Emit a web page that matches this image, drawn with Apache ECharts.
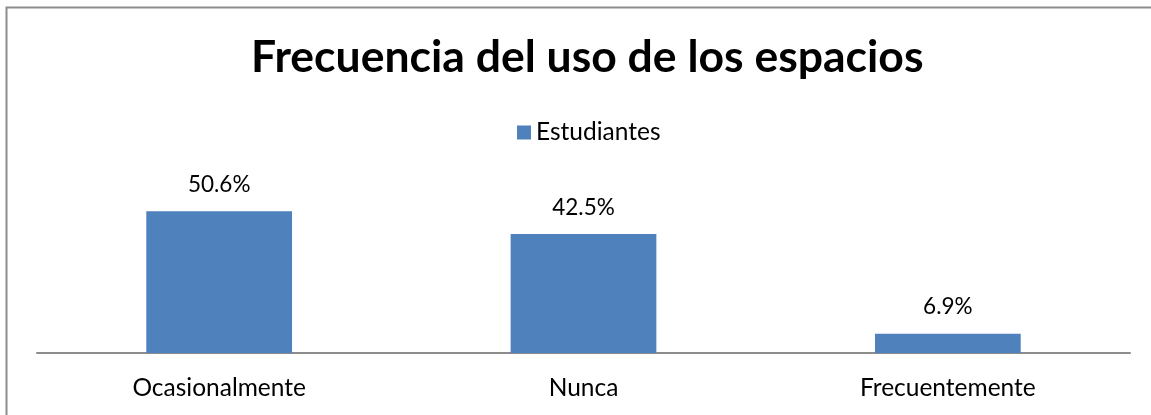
<!DOCTYPE html>
<html><head><meta charset="utf-8">
<script src="https://cdn.jsdelivr.net/npm/echarts@6/dist/echarts.min.js"></script>
<style>html,body{margin:0;padding:0;background:#fff}#c{width:1151px;height:415px}</style>
</head><body><div id="c"></div>
<script>
const categories = ['Ocasionalmente', 'Nunca', 'Frecuentemente'];
const seriesName = 'Estudiantes';
const values = [50.6, 42.5, 6.9];
const titleText = 'Frecuencia del uso de los espacios';

const chart = echarts.init(document.getElementById('c'), null, {renderer: 'canvas'});
chart.setOption({
  animation: false,
  backgroundColor: '#fff',
  textStyle: {fontFamily: 'Lato'},
  graphic: [{
    type: 'rect', silent: true, z: -1,
    shape: {x: 6.5, y: 7.5, width: 1160, height: 420},
    style: {fill: 'none', stroke: '#8c8c8c', lineWidth: 2}
  }],
  title: {
    text: titleText, left: 246, top: 30,
    textStyle: {fontFamily: 'Lato', fontWeight: 'bold', fontSize: 44.5, color: '#000'}
  },
  legend: {
    data: [seriesName], top: 115, left: 512,
    icon: 'rect', itemWidth: 14, itemHeight: 14, itemGap: 8,
    textStyle: {fontFamily: 'Lato', fontSize: 24.5, color: '#000'}
  },
  grid: {left: 37, right: 21, top: 185, bottom: 62},
  xAxis: {
    type: 'category', data: categories,
    axisLine: {lineStyle: {color: '#8c8c8c', width: 2}},
    axisTick: {show: false},
    axisLabel: {fontFamily: 'Lato', fontSize: 24.5, color: '#000', margin: 23}
  },
  yAxis: {type: 'value', min: 0, max: 60, show: false, splitLine: {show: false}},
  series: [{
    name: seriesName, type: 'bar', data: values, barWidth: '40%',
    itemStyle: {color: '#4F81BD'},
    label: {show: true, position: 'top', distance: 15, formatter: p => p.value.toFixed(1) + '%',
      fontFamily: 'Lato', fontSize: 22.5, color: '#000'}
  }]
});
</script></body></html>
